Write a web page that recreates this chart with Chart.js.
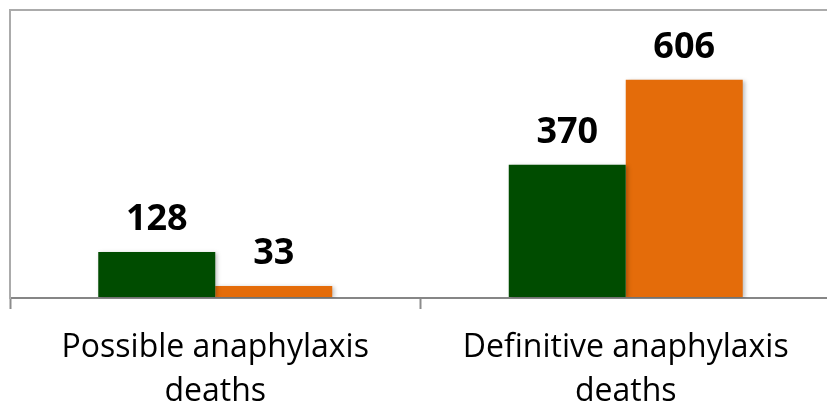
<!DOCTYPE html>
<html>
<head>
<meta charset="utf-8">
<script src="https://cdn.jsdelivr.net/npm/chart.js@4/dist/chart.umd.min.js"></script>
<style>
  html, body { margin: 0; padding: 0; background: #fff; overflow: hidden; }
  canvas { display: block; }
</style>
</head>
<body>
<canvas id="grafico" width="831" height="405"></canvas>
<script>
// dados
const categorias = [['Possible anaphylaxis', 'deaths'], ['Definitive anaphylaxis', 'deaths']];
const serie1 = [128, 370];
const serie2 = [33, 606];
const eixoMax = 800;

// rótulos de valor em cima das barras
const rotulosValor = {
    id: 'rotulosValor',
    afterDatasetsDraw(chart) {
        const ctx = chart.ctx;
        ctx.save();
        ctx.font = 'bold 36px "Open Sans", sans-serif';
        ctx.fillStyle = '#000';
        ctx.textAlign = 'center';
        ctx.textBaseline = 'alphabetic';
        chart.data.datasets.forEach((ds, i) => {
            chart.getDatasetMeta(i).data.forEach((bar, j) => {
                ctx.fillText(ds.data[j], bar.x, bar.y - 22);
            });
        });
        ctx.restore();
    }
};

// sombra leve nas barras
const sombra = {
    id: 'sombra',
    beforeDatasetsDraw(chart) {
        const ctx = chart.ctx;
        ctx.save();
        ctx.shadowColor = 'rgba(0,0,0,0.25)';
        ctx.shadowBlur = 4;
        ctx.shadowOffsetX = 2;
        ctx.shadowOffsetY = 1;
    },
    afterDatasetsDraw(chart) {
        chart.ctx.restore();
    }
};

const ctx = document.getElementById('grafico').getContext('2d');
const grafico = new Chart(ctx, {
    type: 'bar',
    data: {
        labels: categorias,
        datasets: [{
            label: 'Series 1',
            data: serie1,
            backgroundColor: '#004C00',
            categoryPercentage: 0.57,
            barPercentage: 1.0
        }, {
            label: 'Series 2',
            data: serie2,
            backgroundColor: '#E46C0A',
            categoryPercentage: 0.57,
            barPercentage: 1.0
        }]
    },
    options: {
        responsive: false,
        animation: false,
        layout: { padding: { left: 10, top: 10, right: 0, bottom: 0 } },
        plugins: {
            legend: { display: false },
            tooltip: { enabled: false }
        },
        scales: {
            x: {
                offset: true,
                grid: {
                    offset: true,
                    drawOnChartArea: false,
                    drawTicks: true,
                    tickLength: 11,
                    tickWidth: 2,
                    tickColor: '#8C8C8C'
                },
                border: { display: true, color: '#868686', width: 2 },
                ticks: {
                    color: '#000',
                    padding: 17,
                    font: { family: '"Open Sans", sans-serif', size: 32, lineHeight: 1.375 }
                },
                afterFit(scale) { scale.height = 107; }
            },
            y: {
                min: 0,
                max: eixoMax,
                ticks: { display: false, stepSize: eixoMax },
                grid: {
                    drawTicks: false,
                    lineWidth: 2,
                    color: c => c.tick && c.tick.value === eixoMax ? '#ABABAB' : 'rgba(0,0,0,0)'
                },
                border: { display: true, color: '#ABABAB', width: 2 },
                afterFit(scale) { scale.width = 0; }
            }
        }
    },
    plugins: [sombra, rotulosValor]
});
</script>
</body>
</html>
